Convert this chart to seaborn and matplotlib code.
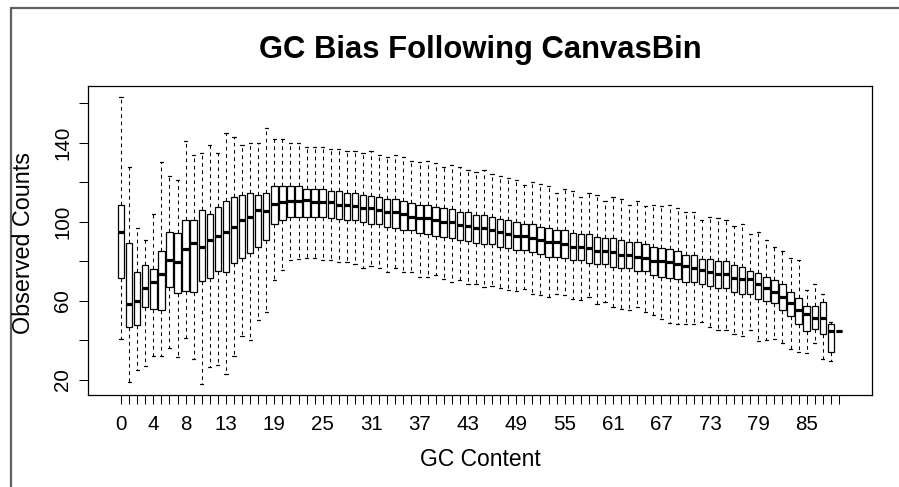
import matplotlib
matplotlib.use("Agg")
import matplotlib.pyplot as plt
from matplotlib.lines import Line2D
import numpy as np
import pandas as pd
import seaborn as sns

# GC content categories (0..89)
gc = list(range(90))

whisker_lo = [40.7, 19.0, 24.9, 26.8, 32.1, 32.1, 36.1, 31.4, 41.1, 30.5,
              18.1, 26.3, 27.6, 22.9, 32.2, 42.4, 40.4, 50.4, 54.3, 70.4,
              75.5, 80.8, 81.0, 81.5, 81.5, 80.6, 80.6, 79.8, 79.8, 78.6,
              76.7, 77.6, 76.4, 74.7, 76.4, 74.4, 74.4, 72.1, 72.1, 73.0,
              71.3, 69.6, 70.4, 68.7, 68.4, 67.0, 67.4, 66.5, 65.7, 64.8,
              66.2, 63.3, 62.8, 62.0, 63.3, 62.8, 61.1, 60.3, 62.0, 58.6,
              59.4, 56.9, 56.0, 55.5, 56.9, 54.3, 52.6, 50.9, 48.8, 48.5,
              48.4, 48.4, 49.2, 46.7, 45.3, 45.3, 43.3, 42.4, 45.3, 39.5,
              40.2, 40.7, 38.7, 35.8, 33.9, 33.4, 38.5, 30.5, 29.6, 44.5]

q1 = [71.8, 46.7, 48.0, 56.9, 55.8, 55.2, 67.0, 64.2, 65.0, 64.5,
      69.9, 71.8, 75.2, 74.4, 79.3, 81.5, 84.4, 87.4, 90.8, 98.8,
      100.7, 102.7, 102.7, 102.7, 102.7, 102.7, 101.9, 101.5, 101.0, 101.0,
      99.8, 98.9, 98.9, 97.6, 96.8, 95.9, 95.9, 94.2, 93.9, 92.9,
      92.5, 91.7, 90.8, 90.5, 89.5, 88.8, 88.6, 87.4, 86.6, 85.7,
      85.7, 84.9, 83.5, 82.3, 82.3, 81.5, 80.6, 80.6, 79.3, 78.4,
      78.4, 77.2, 76.4, 76.4, 75.2, 75.2, 73.3, 72.1, 71.6, 71.3,
      69.6, 69.6, 68.4, 67.4, 66.5, 66.5, 64.5, 63.6, 63.6, 60.8,
      59.7, 58.7, 55.2, 52.1, 48.2, 44.8, 45.6, 43.4, 34.1, 44.5]

median = [94.7, 58.6, 59.7, 66.5, 69.6, 73.5, 80.5, 79.8, 86.4, 89.1,
          87.1, 90.8, 93.0, 94.7, 97.6, 101.0, 102.7, 105.8, 105.3, 109.0,
          109.9, 110.4, 110.7, 110.9, 109.9, 109.9, 109.9, 108.7, 108.7, 107.8,
          107.0, 107.0, 105.8, 104.8, 104.8, 103.9, 102.7, 101.9, 101.9, 101.0,
          99.8, 99.8, 98.5, 98.0, 96.8, 96.8, 95.9, 94.9, 93.9, 92.9,
          92.9, 91.8, 90.8, 90.0, 90.0, 88.8, 87.4, 87.4, 86.6, 85.4,
          85.4, 84.5, 83.2, 83.2, 82.3, 81.5, 80.3, 80.3, 79.5, 78.5,
          77.6, 76.4, 75.5, 74.7, 73.5, 73.5, 71.6, 70.8, 70.8, 68.7,
          66.7, 64.6, 61.8, 59.1, 55.2, 53.1, 51.1, 51.1, 44.5, 44.5]

q3 = [108.7, 89.1, 74.4, 77.9, 76.2, 85.4, 95.1, 94.2, 100.7, 100.7,
      106.1, 104.1, 107.5, 110.5, 112.6, 113.4, 114.6, 113.4, 114.6, 118.0,
      118.0, 118.2, 118.0, 116.8, 116.6, 116.6, 115.8, 115.8, 114.6, 114.6,
      113.8, 113.2, 112.6, 111.5, 111.5, 110.4, 109.5, 108.7, 108.7, 107.5,
      107.0, 106.5, 104.8, 104.8, 103.6, 103.6, 102.7, 101.5, 100.7, 99.7,
      98.8, 98.8, 97.6, 96.8, 95.9, 95.9, 94.6, 93.7, 93.7, 92.5,
      91.7, 91.7, 90.8, 90.0, 89.6, 88.8, 87.4, 86.6, 86.3, 85.3,
      83.2, 83.2, 81.1, 81.1, 80.3, 80.3, 78.1, 77.2, 75.2, 74.2,
      72.1, 70.4, 68.4, 64.5, 61.5, 57.4, 57.4, 59.4, 48.4, 44.5]

whisker_hi = [163.0, 127.9, 96.8, 90.8, 103.9, 130.1, 123.1, 121.4, 140.9, 133.8,
              135.0, 138.7, 135.0, 145.2, 143.0, 138.9, 140.1, 140.1, 147.4, 141.8,
              141.8, 140.1, 140.1, 137.9, 137.9, 137.9, 137.0, 137.0, 135.8, 135.8,
              135.0, 135.8, 134.1, 132.9, 134.1, 132.9, 130.7, 130.2, 130.7, 129.9,
              127.9, 129.0, 127.9, 126.2, 125.1, 126.2, 124.3, 123.1, 122.3, 121.1,
              118.5, 120.2, 119.2, 118.0, 114.6, 116.6, 115.5, 112.6, 114.6, 113.7,
              110.7, 112.6, 111.5, 108.7, 110.7, 107.8, 108.7, 107.8, 108.7, 107.0,
              104.8, 104.8, 101.0, 102.7, 101.9, 101.0, 98.0, 98.8, 93.9, 94.7,
              90.8, 87.4, 85.4, 81.5, 80.6, 65.6, 68.6, 63.6, 49.2, 44.5]

shown_x_labels = [0, 4, 8, 13, 19, 25, 31, 37, 43, 49, 55, 61, 67, 73, 79, 85]
y_ticks = [20, 40, 60, 80, 100, 120, 140, 160]
y_tick_labels = ["20", "", "60", "", "100", "", "140", ""]

# long-form table whose five-number summaries are the values above
rows = []
for g, a, b, c, d, e in zip(gc, whisker_lo, q1, median, q3, whisker_hi):
    for v in (a, b, c, d, e):
        rows.append((g, v))
df = pd.DataFrame(rows, columns=["gc", "count"])

sns.set_style("ticks")
plt.rcParams["font.family"] = ["Liberation Sans", "DejaVu Sans"]
plt.rcParams["text.color"] = "black"
plt.rcParams["axes.labelcolor"] = "black"
plt.rcParams["xtick.color"] = "black"
plt.rcParams["ytick.color"] = "black"

W, H = 899, 487
fig = plt.figure(figsize=(W / 100, H / 100), dpi=100)
fig.patch.set_facecolor("white")
ax = fig.add_axes([88 / W, 1 - 395 / H, (872 - 88) / W, (395 - 86) / H])

sns.boxplot(data=df, x="gc", y="count", order=gc, ax=ax,
            color="white", linecolor="black", linewidth=0.9, width=0.8,
            whis=(0, 100), fliersize=0,
            medianprops=dict(linewidth=2.3, color="black", solid_capstyle="butt"),
            whiskerprops=dict(linestyle=(0, (3.5, 3.5)), linewidth=0.75, color="black"),
            capprops=dict(linewidth=0.9, color="black"))

lo, hi = min(whisker_lo), max(whisker_hi)
pad = 0.04 * (hi - lo)
ax.set_ylim(lo - pad, hi + pad)
n = len(gc)
xpad = 0.04 * n
ax.set_xlim(-0.5 - xpad, n - 0.5 + xpad)

ax.set_xticks(range(n))
ax.set_xticklabels([str(g) if g in shown_x_labels else "" for g in gc])
ax.set_yticks(y_ticks)
ax.set_yticklabels(y_tick_labels, rotation=90, va="center")
ax.tick_params(axis="both", direction="out", length=6.5, width=0.75,
               color="black", labelsize=14.8, labelcolor="black")
ax.tick_params(axis="x", pad=8, bottom=True)
ax.tick_params(axis="y", pad=5, left=True)
ax.set_xlabel("")
ax.set_ylabel("")
for s in ax.spines.values():
    s.set_visible(True)
    s.set_color("black")
    s.set_linewidth(0.9)
ax.set_facecolor("white")

fig.text(480 / W, 1 - 50 / H, "GC Bias Following CanvasBin", ha="center",
         va="center", fontsize=22.3, fontweight="bold", color="black")
fig.text(480 / W, 1 - 460 / H, "GC Content", ha="center", va="center",
         fontsize=16.5, color="black")
fig.text(24 / W, 1 - 243 / H, "Observed Counts", ha="center", va="center",
         rotation=90, fontsize=16.8, color="black")

# outer frame (left & top) of the original screenshot
fig.add_artist(Line2D([11 / W, 1.0], [1 - 8 / H, 1 - 8 / H], transform=fig.transFigure,
                      color="#606060", linewidth=1.6))
fig.add_artist(Line2D([11 / W, 11 / W], [0.0, 1 - 8 / H], transform=fig.transFigure,
                      color="#606060", linewidth=1.6))

fig.savefig("out.png", dpi=100, facecolor="white")
